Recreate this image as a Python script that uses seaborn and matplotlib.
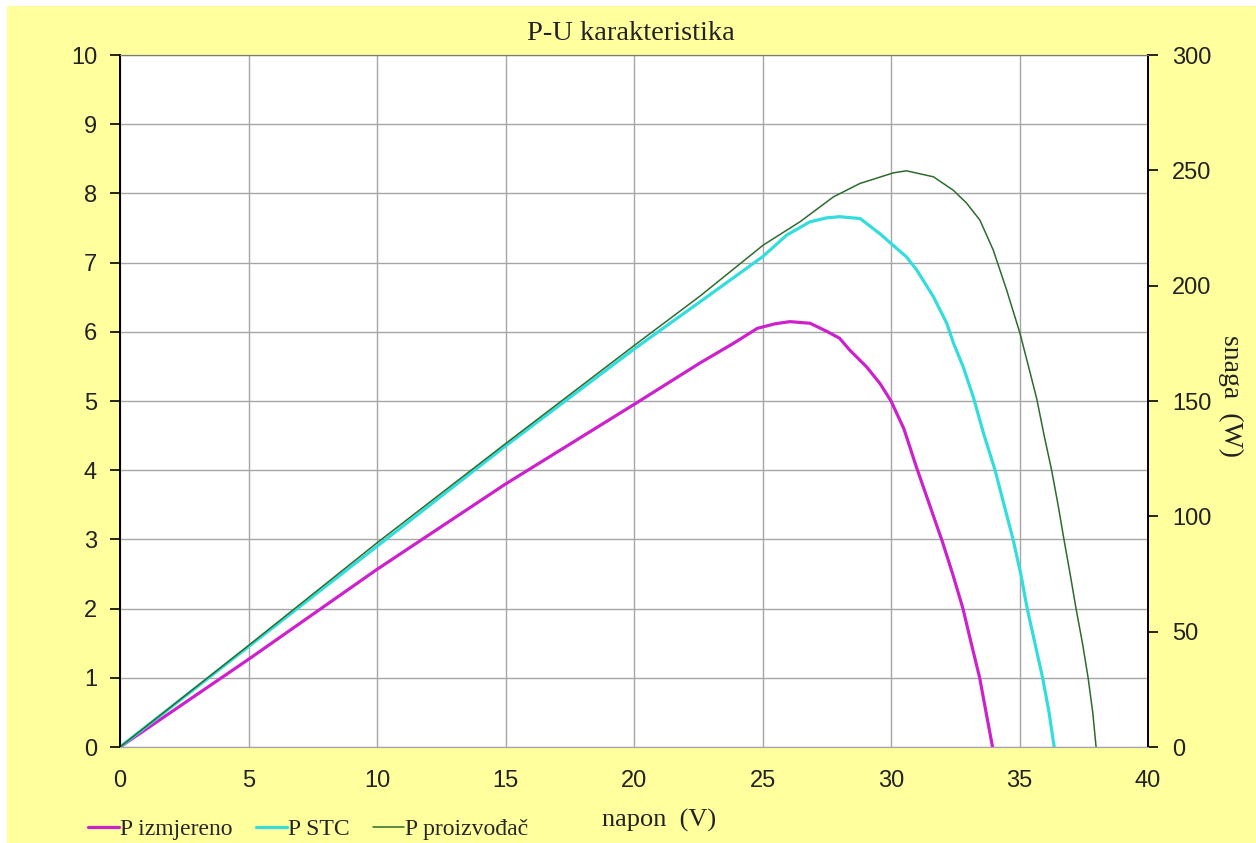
import numpy as np
import pandas as pd
import seaborn as sns
import matplotlib.pyplot as plt
from matplotlib.patches import Rectangle
from matplotlib.lines import Line2D

# ===============================
# Data
# ===============================
u_izmjereno = [0, 5, 10, 15, 20, 22.57, 23.87, 24.8, 25.5, 26.07, 26.85, 27.5, 28.0, 28.4,
               29.05, 29.57, 30, 30.5, 31, 31.5, 32, 32.4, 32.8, 33.1, 33.45, 33.7, 33.95]
p_izmjereno = [0, 38, 77, 114, 148.5, 166.5, 175, 181.5, 183.5, 184.4, 183.7, 180.2, 177.2, 172,
               164.8, 157.6, 150, 138, 121, 105, 89, 75, 60, 46, 30, 15, 0]

u_stc = [0, 5, 10, 15, 20, 22.57, 25, 25.94, 26.85, 27.5, 28, 28.8, 29.57, 30, 30.6, 31,
         31.65, 32.17, 32.43, 32.81, 33.2, 33.6, 34.05, 34.4, 34.75, 35.05, 35.3, 35.6, 35.9,
         36.15, 36.35]
p_stc = [0, 43.5, 87, 130.5, 172.5, 193, 212.5, 221.9, 227.7, 229.4, 229.9, 229.1, 222.5, 218.3,
         212.5, 206.8, 195.2, 183.7, 175.1, 164.8, 151.8, 136, 120, 105, 90, 75, 60, 45, 30,
         15, 0]

u_proizvodjac = [0, 5, 10, 15, 20, 22.57, 25.03, 26.46, 27.76, 28.79, 30.09, 30.6, 31.65, 32.42,
                 32.94, 33.46, 33.98, 34.5, 35.02, 35.35, 35.67, 35.96, 36.25, 36.5, 36.73,
                 36.97, 37.2, 37.45, 37.67, 37.85, 37.98]
p_proizvodjac = [0, 44, 88.5, 131.5, 174, 195.5, 217.6, 227.7, 238.5, 244.3, 248.9, 249.8, 247.2,
                 241.4, 235.8, 228.4, 215.4, 198.1, 179.3, 165, 151, 135, 120, 105, 90, 75, 60,
                 45, 30, 15, 0]

labels = ["P izmjereno", "P STC", "P proizvođač"]
colors = ["#CC22CC", "#33DDDD", "#2E6B2E"]
widths = [2.3, 2.3, 1.1]

# ===============================
# Figure
# ===============================
sns.set_style("white")
plt.rcParams["font.family"] = ["Liberation Sans", "DejaVu Sans"]
SERIF = ["Liberation Serif", "DejaVu Serif"]
YELLOW = "#FFFF9E"
GRID = "#A6A6A6"
W, H = 1256, 843

fig = plt.figure(figsize=(W / 100, H / 100), dpi=100, facecolor="white")
fig.patches.append(Rectangle((7 / W, 0), 1, 1 - 6 / H, transform=fig.transFigure,
                             facecolor=YELLOW, edgecolor="none", zorder=-10))

ax = fig.add_axes([120 / W, 1 - 747 / H, (1148 - 120) / W, (747 - 55) / H])
ax.set_facecolor("white")
ax2 = ax.twinx()

series = [(u_izmjereno, p_izmjereno), (u_stc, p_stc), (u_proizvodjac, p_proizvodjac)]
for (u, p), lab, c, w in zip(series, labels, colors, widths):
    df = pd.DataFrame({"napon": u, "snaga": p})
    sns.lineplot(data=df, x="napon", y="snaga", ax=ax2, color=c, lw=w,
                 sort=False, estimator=None, legend=False)

# left axis (grid only)
ax.set_xlim(0, 40)
ax.set_ylim(0, 10)
ax.set_xticks(np.arange(0, 41, 5))
ax.set_yticks(np.arange(0, 11, 1))
ax.grid(True, color=GRID, lw=1)
ax.set_axisbelow(True)
ax.tick_params(axis="y", direction="out", length=7, width=1.2, color="black",
               labelsize=17, pad=9.5, labelcolor="#222222")
ax.tick_params(axis="x", direction="out", length=5, width=1, color=GRID,
               labelsize=17, pad=11.5, labelcolor="#222222")

ax2.set_xlim(0, 40)
ax2.set_ylim(0, 300)
ax2.set_yticks(np.arange(0, 301, 50))
ax2.tick_params(axis="y", direction="out", length=7, width=1.2, color="black",
                labelsize=17, pad=10.5, labelcolor="#222222")
ax2.set_xlabel("")
ax2.set_ylabel("")

for a in (ax, ax2):
    for s in a.spines.values():
        s.set_visible(True)
    a.spines["left"].set_color("black")
    a.spines["right"].set_color("black")
    a.spines["left"].set_linewidth(1.3)
    a.spines["right"].set_linewidth(1.3)
    a.spines["top"].set_color("#7A7A6A")
    a.spines["bottom"].set_color(GRID)

# texts
fig.text(631 / W, 1 - 40 / H, "P-U karakteristika", ha="center", va="baseline",
         fontsize=20.5, family=SERIF, color="#222222")
fig.text(659.5 / W, 1 - 827 / H, "napon  (V)", ha="center", va="baseline",
         fontsize=19, family=SERIF, color="#222222")
fig.text(1231 / W, 1 - 396 / H, "snaga  (W)", ha="center", va="center",
         rotation=270, fontsize=20, family=SERIF, color="#222222")

handles = [Line2D([], [], color=c, lw=w) for c, w in zip(colors, widths)]
fig.legend(handles, labels, loc="center left", bbox_to_anchor=(88 / W, 1 - 829 / H),
           ncol=3, frameon=False, handlelength=1.3, handletextpad=0.05, columnspacing=1.0,
           borderaxespad=0, borderpad=0, prop={"family": SERIF, "size": 17})

fig.savefig("out.png", dpi=100, facecolor=fig.get_facecolor())
